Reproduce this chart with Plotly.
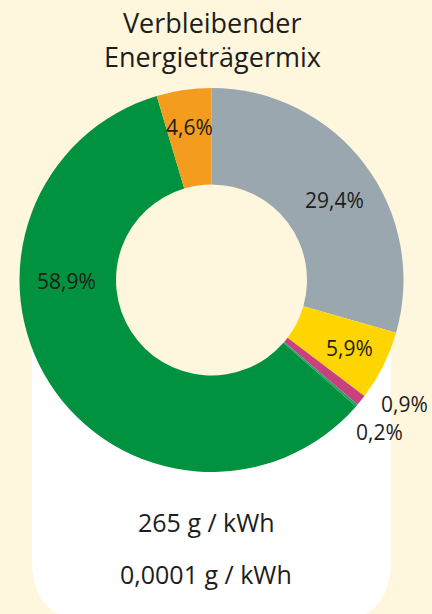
import plotly.graph_objects as go

W, H = 432, 614

categories = ["Grau", "Gelb", "Magenta", "Türkis", "Grün", "Orange"]
values = [29.4, 5.9, 0.9, 0.2, 58.9, 4.6]
colors = ["#9BA7AF", "#FFD500", "#C8417E", "#2E9E67", "#00923F", "#F39C1E"]
title_lines = ["Verbleibender", "Energieträgermix"]
footer_lines = ["265 g / kWh", "0,0001 g / kWh"]

FONT = "Open Sans, Noto Sans, sans-serif"
BG = "#FEF7DD"
TXT = "#1d1d1b"

def fmt(v):
    return f"{v:.1f}".replace(".", ",") + "%"

cx, cy, R, r_hole = 211.5, 280, 192, 95.5

fig = go.Figure()
fig.add_trace(go.Pie(
    labels=categories,
    values=values,
    sort=False,
    direction="clockwise",
    rotation=0,
    hole=r_hole / R,
    marker=dict(colors=colors, line=dict(width=0)),
    textinfo="none",
    hoverinfo="label+percent",
    showlegend=False,
    domain=dict(x=[(cx - R) / W, (cx + R) / W], y=[(H - cy - R) / H, (H - cy + R) / H]),
))

def px(x):
    return x / W

def py(y):
    return 1 - y / H

# white rounded panel behind the lower half
x0, x1 = px(32), px(391)
yt = py(300)
yb = py(622)
rx, ry = 62 / W, 62 / H
path = (f"M {x0} {yt} L {x1} {yt} L {x1} {yb + ry} Q {x1} {yb} {x1 - rx} {yb} "
        f"L {x0 + rx} {yb} Q {x0} {yb} {x0} {yb + ry} Z")
fig.add_shape(type="path", path=path, xref="paper", yref="paper",
              fillcolor="white", line=dict(width=0), layer="below")
# donut hole shows the page background
fig.add_shape(type="circle", xref="paper", yref="paper",
              x0=px(cx - r_hole), x1=px(cx + r_hole),
              y0=py(cy + r_hole), y1=py(cy - r_hole),
              fillcolor=BG, line=dict(width=0), layer="below")

# slice labels
label_pos = [(334, 200), (349, 348), (404, 404), (379, 432), (66, 281), (189, 127)]
for v, (lx, ly) in zip(values, label_pos):
    fig.add_annotation(x=px(lx), y=py(ly), xref="paper", yref="paper",
                       xanchor="center", yanchor="middle",
                       text=fmt(v), showarrow=False,
                       font=dict(family=FONT, size=21, color=TXT))

# title
for line, ty in zip(title_lines, [22, 56]):
    fig.add_annotation(x=px(212), y=py(ty), xref="paper", yref="paper",
                       xanchor="center", yanchor="middle",
                       text=line, showarrow=False,
                       font=dict(family=FONT, size=27, color=TXT))

# footer
for line, ty in zip(footer_lines, [522, 574]):
    fig.add_annotation(x=px(206), y=py(ty), xref="paper", yref="paper",
                       xanchor="center", yanchor="middle",
                       text=line, showarrow=False,
                       font=dict(family=FONT, size=25, color=TXT))

fig.update_layout(
    width=W, height=H,
    margin=dict(l=0, r=0, t=0, b=0),
    paper_bgcolor=BG, plot_bgcolor=BG,
)

fig.write_html("out.html", config={"displayModeBar": False},
               post_script="document.body.style.margin='0';document.body.style.overflow='hidden';")
